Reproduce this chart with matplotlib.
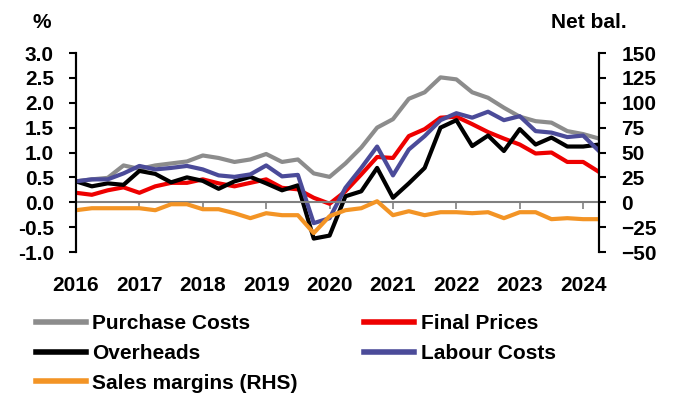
import numpy as np
import matplotlib.pyplot as plt

plt.rcParams['font.family'] = ['Liberation Sans', 'DejaVu Sans']
plt.rcParams['font.weight'] = 'bold'

# quarterly, 2016 Q1 .. 2024 Q2
years = ['2016', '2017', '2018', '2019', '2020', '2021', '2022', '2023', '2024']

purchase_costs = [0.42, 0.46, 0.49, 0.74, 0.67, 0.74, 0.78, 0.82, 0.94, 0.89, 0.81, 0.86, 0.97, 0.81, 0.86, 0.58, 0.51,
                  0.78, 1.10, 1.50, 1.67, 2.08, 2.21, 2.51, 2.47, 2.21, 2.10, 1.90, 1.72, 1.63, 1.60, 1.43, 1.37, 1.28]
final_prices = [0.19, 0.15, 0.24, 0.30, 0.19, 0.32, 0.39, 0.39, 0.46, 0.38, 0.32, 0.39, 0.46, 0.29, 0.26, 0.09, -0.03,
                0.22, 0.56, 0.91, 0.89, 1.33, 1.47, 1.70, 1.72, 1.57, 1.41, 1.28, 1.16, 0.98, 1.00, 0.81, 0.81, 0.61]
overheads = [0.42, 0.32, 0.38, 0.35, 0.63, 0.57, 0.40, 0.50, 0.43, 0.27, 0.42, 0.51, 0.38, 0.24, 0.34, -0.73, -0.67,
             0.12, 0.22, 0.69, 0.09, 0.38, 0.69, 1.50, 1.65, 1.13, 1.34, 1.03, 1.47, 1.16, 1.30, 1.12, 1.12, 1.16]
labour_costs = [0.42, 0.46, 0.46, 0.58, 0.73, 0.66, 0.69, 0.73, 0.66, 0.54, 0.51, 0.56, 0.74, 0.52, 0.55, -0.42, -0.32,
                0.29, 0.69, 1.12, 0.54, 1.06, 1.33, 1.65, 1.79, 1.70, 1.82, 1.65, 1.73, 1.43, 1.40, 1.31, 1.34, 1.03]
sales_margins = [-8, -6, -6, -6, -6, -8, -2, -2, -7, -7, -11, -16, -11, -13, -13, -31, -14,
                 -8, -6, 1, -13, -9, -13, -10, -10, -11, -10, -16, -10, -10, -17, -16, -17, -17]

x = np.arange(len(purchase_costs))

fig = plt.figure(figsize=(6.75, 4.01), dpi=100)
ax = fig.add_axes([76/675, 1-252/401, 523/675, 199/401])
ax2 = ax.twinx()

lw = 3
l1, = ax.plot(x, purchase_costs, color='#8c8c8c', lw=lw, label='Purchase Costs')
l2, = ax.plot(x, final_prices, color='#ee0000', lw=lw, label='Final Prices')
l3, = ax.plot(x, overheads, color='black', lw=lw, label='Overheads')
l4, = ax.plot(x, labour_costs, color='#4b4b99', lw=lw, label='Labour Costs')
l5, = ax2.plot(x, sales_margins, color='#f39425', lw=lw, label='Sales margins (RHS)')

ax.set_xlim(0, len(x) - 1)
ax.set_ylim(-1, 3)
ax2.set_ylim(-50, 150)
ax.set_yticks(np.arange(-1, 3.01, 0.5))
ax.set_yticklabels([f'{v:.1f}' for v in np.arange(-1, 3.01, 0.5)])
ax2.set_yticks(np.arange(-50, 151, 25))

for a in (ax, ax2):
    a.spines['top'].set_visible(False)
    a.spines['left'].set_linewidth(1.5)
    a.spines['right'].set_linewidth(1.5)
ax2.spines['bottom'].set_visible(False)

# zero line acts as x axis
ax.spines['bottom'].set_position(('data', 0))
ax.spines['bottom'].set_color('#808080')
ax.spines['bottom'].set_linewidth(1.5)
ax.set_xticks(x[::4][1:])
ax.tick_params(axis='x', direction='out', length=5, color='#808080', width=1.2, labelbottom=False)

ax.tick_params(axis='y', length=5, width=1.5, pad=11, labelsize=15)
ax2.tick_params(axis='y', length=5, width=1.5, pad=11, labelsize=15)

sec = ax.secondary_xaxis('bottom')
sec.set_xticks(x[::4])
sec.set_xticklabels(years)
sec.tick_params(length=0, pad=17, labelsize=15)
sec.spines['bottom'].set_visible(False)

fig.text(42/675, 1-22/401, '%', ha='center', va='center', fontsize=15, fontweight='bold')
fig.text(589/675, 1-23/401, 'Net bal.', ha='center', va='center', fontsize=15, fontweight='bold')

fig.legend([l1, l3, l5, l2, l4], [h.get_label() for h in (l1, l3, l5, l2, l4)],
           ncol=2, loc='upper left', bbox_to_anchor=(36/675, 1-314/401), frameon=False,
           fontsize=15, handlelength=2.4, handletextpad=0.3, columnspacing=3.2,
           labelspacing=0.52, borderaxespad=0, borderpad=0)
for h in fig.legends[0].get_lines():
    h.set_linewidth(4)

fig.savefig('out.png', dpi=100)
